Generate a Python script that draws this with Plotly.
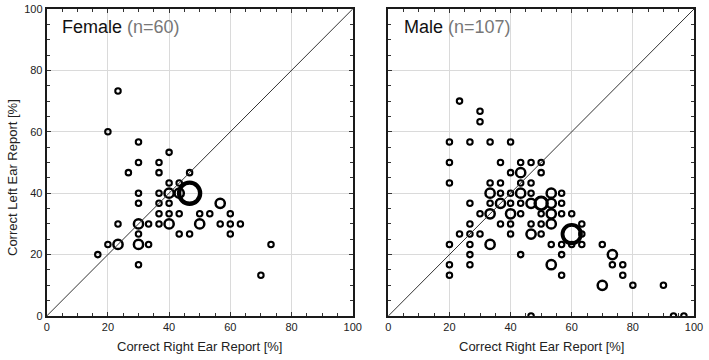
import plotly.graph_objects as go

# ---------------- data ----------------
female_right = [23.3, 20, 30, 40, 30, 36.7, 26.7, 36.7, 46.7, 40, 43.3,
                30, 36.7, 40, 43.3, 46.7,
                30, 36.7, 40, 56.7,
                36.7, 40, 43.3, 50, 53.3, 60,
                23.3, 30, 33.3, 36.7, 40, 50, 56.7, 60, 63.3,
                30, 43.3, 46.7, 60,
                20, 23.3, 30, 33.3, 73.3,
                16.7, 30, 70]
female_left = [73.3, 60, 56.7, 53.3, 50, 50, 46.7, 46.7, 46.7, 43.3, 43.3,
               40, 40, 40, 40, 40,
               36.7, 36.7, 36.7, 36.7,
               33.3, 33.3, 33.3, 33.3, 33.3, 33.3,
               30, 30, 30, 30, 30, 30, 30, 30, 30,
               26.7, 26.7, 26.7, 26.7,
               23.3, 23.3, 23.3, 23.3, 23.3,
               20, 16.7, 13.3]
female_count = [1, 1, 1, 1, 1, 1, 1, 1, 1, 1, 1,
                1, 1, 2, 2, 6,
                1, 1, 1, 2,
                1, 1, 1, 1, 1, 1,
                1, 2, 1, 1, 2, 2, 1, 1, 1,
                1, 1, 1, 1,
                1, 2, 2, 1, 1,
                1, 1, 1]

male_right = [23.3, 30, 30,
              20, 26.7, 33.3, 40,
              20, 36.7, 43.3, 46.7, 50,
              40, 43.3, 50,
              20, 33.3, 36.7, 43.3, 46.7,
              33.3, 36.7, 40, 43.3, 46.7, 53.3, 56.7,
              26.7, 33.3, 36.7, 40, 43.3, 46.7, 50, 53.3, 56.7,
              30, 33.3, 40, 43.3, 50, 53.3, 56.7, 60,
              26.7, 36.7, 40, 46.7, 50, 53.3, 63.3,
              23.3, 26.7, 30, 40, 46.7, 50, 60, 63.3,
              20, 26.7, 33.3, 53.3, 56.7, 60, 63.3, 70,
              26.7, 43.3, 56.7, 73.3,
              20, 26.7, 53.3, 73.3, 76.7,
              20, 56.7, 76.7,
              70, 80, 90,
              46.7, 93.3, 96.7]
male_left = [70, 66.7, 63.3,
             56.7, 56.7, 56.7, 56.7,
             50, 50, 50, 50, 50,
             46.7, 46.7, 46.7,
             43.3, 43.3, 43.3, 43.3, 43.3,
             40, 40, 40, 40, 40, 40, 40,
             36.7, 36.7, 36.7, 36.7, 36.7, 36.7, 36.7, 36.7, 36.7,
             33.3, 33.3, 33.3, 33.3, 33.3, 33.3, 33.3, 33.3,
             30, 30, 30, 30, 30, 30, 30,
             26.7, 26.7, 26.7, 26.7, 26.7, 26.7, 26.7, 26.7,
             23.3, 23.3, 23.3, 23.3, 23.3, 23.3, 23.3, 23.3,
             20, 20, 20, 20,
             16.7, 16.7, 16.7, 16.7, 16.7,
             13.3, 13.3, 13.3,
             10, 10, 10,
             0, 0, 0]
male_count = [1, 1, 1,
              1, 1, 1, 1,
              1, 1, 1, 1, 1,
              1, 2, 1,
              1, 1, 1, 1, 1,
              2, 1, 1, 2, 1, 2, 1,
              1, 1, 2, 1, 1, 2, 3, 2, 1,
              1, 2, 2, 1, 1, 2, 1, 1,
              1, 1, 1, 1, 1, 2, 1,
              1, 1, 1, 1, 2, 1, 5, 1,
              1, 1, 2, 1, 1, 1, 1, 1,
              1, 1, 1, 2,
              1, 1, 2, 1, 1,
              1, 1, 1,
              2, 1, 1,
              1, 1, 1]

panel_titles = ["Female", "Male"]
panel_n = [60, 107]
tick_vals = [0, 20, 40, 60, 80, 100]
tick_text = ["0", "20", "40", "60", "80", "100"]
axis_range = [0, 100]
x_title = "Correct Right Ear Report [%]"
y_title = "Correct Left Ear Report [%]"

# ---------------- figure ----------------
W, H = 709, 360
FONT = "Liberation Sans, Arial, sans-serif"
INK = "#111111"


def diam(c):
    return 5.5 * c ** 0.75


def lw(c):
    return 1.6 + 0.45 * c


fig = go.Figure()
panels = [(female_right, female_left, female_count, "x", "y"),
          (male_right, male_left, male_count, "x2", "y2")]
for xs, ys, cs, xa, ya in panels:
    fig.add_trace(go.Scatter(
        x=xs, y=ys, mode="markers", xaxis=xa, yaxis=ya,
        marker=dict(symbol="circle-open", color="#000000", opacity=1,
                    size=[diam(c) for c in cs],
                    line=dict(width=[lw(c) for c in cs], color="#000000")),
        showlegend=False, hoverinfo="skip"))

x_domains = [[46.7 / W, 352.7 / W], [388.3 / W, 694.0 / W]]
y_domain = [44 / H, 351 / H]

axis_common = dict(
    range=axis_range, tickvals=tick_vals, ticktext=tick_text,
    showgrid=True, gridcolor="#dadada", gridwidth=1,
    showline=True, linecolor="#1a1a1a", linewidth=2, mirror="ticks",
    ticks="inside", ticklen=4, tickcolor="#333333", tickwidth=1,
    minor=dict(dtick=5, tick0=0, ticks="inside", ticklen=3,
               tickcolor="#333333", showgrid=False),
    zeroline=False, tickfont=dict(family=FONT, size=11, color="#222222"),
    fixedrange=True, automargin=False,
)

fig.update_layout(
    width=W, height=H, margin=dict(l=0, r=0, t=0, b=0),
    paper_bgcolor="white", plot_bgcolor="white",
    xaxis=dict(axis_common, domain=x_domains[0], anchor="y"),
    yaxis=dict(axis_common, domain=y_domain, anchor="x"),
    xaxis2=dict(axis_common, domain=x_domains[1], anchor="y2"),
    yaxis2=dict(axis_common, domain=y_domain, anchor="x2",
                showticklabels=False),
)

# axis titles
for dom in x_domains:
    fig.add_annotation(xref="paper", yref="paper",
                       x=(dom[0] + dom[1]) / 2, y=14 / H,
                       xanchor="center", yanchor="middle", showarrow=False,
                       text=x_title,
                       font=dict(family=FONT, size=13, color="#222222"))
fig.add_annotation(xref="paper", yref="paper", x=12 / W, y=(H - 178) / H,
                   xanchor="center", yanchor="middle", showarrow=False,
                   textangle=-90, text=y_title,
                   font=dict(family=FONT, size=13, color="#222222"))

for i, (xa, ya) in enumerate([("x", "y"), ("x2", "y2")]):
    fig.add_shape(type="line", xref=xa, yref=ya,
                  x0=axis_range[0], y0=axis_range[0],
                  x1=axis_range[1], y1=axis_range[1],
                  line=dict(color="#333333", width=1))
    fig.add_annotation(
        xref=f"{xa} domain", yref=f"{ya} domain", x=0.045, y=0.94,
        xanchor="left", yanchor="middle", showarrow=False,
        text=f"{panel_titles[i]} <span style='color:#777777'>(n={panel_n[i]})</span>",
        font=dict(family=FONT, size=18, color=INK))

fig.write_html("out.html",
               config={"displayModeBar": False},
               post_script="document.body.style.margin='0';"
                           "document.body.style.padding='0';")
